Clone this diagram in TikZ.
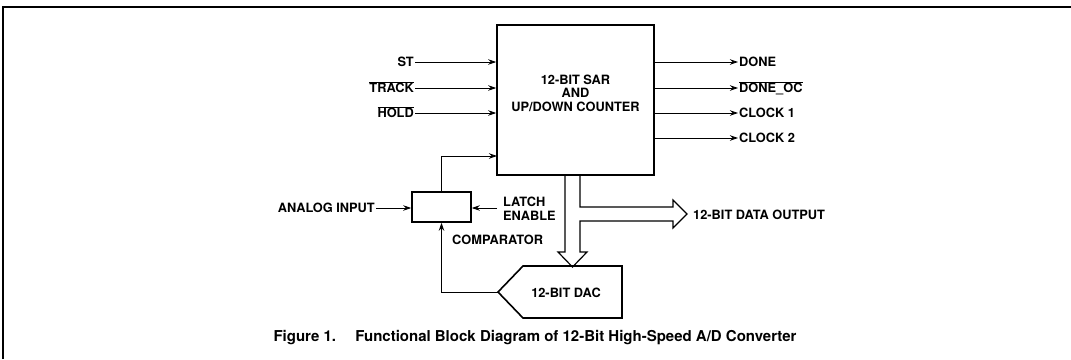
\documentclass[tikz,border=0pt]{standalone}
\usepackage{fontspec}
\setmainfont{TeX Gyre Heros}
\usetikzlibrary{arrows.meta}

\tikzset{
  blockbox/.style={draw, line width=1.6pt, inner sep=0pt},
  sig/.style={line width=0.9pt},
  bus/.style={line width=1.2pt, line join=miter},
  lbl/.style={font=\bfseries\fontsize{12.8}{13.5}\selectfont, inner sep=1pt, text height=9.2pt, text depth=0pt},
  lbltwo/.style={font=\bfseries\fontsize{12.8}{13.5}\selectfont, inner sep=1pt},
}

\begin{document}
\begin{tikzpicture}[x=1pt, y=-1pt, >={Stealth[length=8pt,width=5.5pt]}]
  % Frame
  \useasboundingbox (0,0) rectangle (1071,359);
  \draw[line width=1.5pt] (3,359) -- (3,7) -- (1071,7);

  % SAR block
  \node[blockbox, minimum width=157pt, minimum height=150pt] (sar) at (575.5,100) {};
  \node[lbltwo, align=center] (sartext) at (575.5,93) {12-BIT SAR\\AND\\UP/DOWN COUNTER};

  % Control inputs
  \node[lbl, anchor=east] (st) at (415,62) {ST};
  \node[lbl, anchor=east] (track) at (415,88) {$\overline{\mbox{TRACK}}$};
  \node[lbl, anchor=east] (hold) at (415,113) {$\overline{\mbox{HOLD}}$};
  \draw[sig, ->] (st) -- (st -| sar.west);
  \draw[sig, ->] (track) -- (track -| sar.west);
  \draw[sig, ->] (hold) -- (hold -| sar.west);

  % Outputs
  \node[lbl, anchor=west] (done) at (738,62) {DONE};
  \node[lbl, anchor=west] (doneoc) at (738,88) {$\overline{\mbox{DONE\_OC}}$};
  \node[lbl, anchor=west] (clka) at (738,113) {CLOCK 1};
  \node[lbl, anchor=west] (clkb) at (738,138) {CLOCK 2};
  \draw[sig, ->] (done -| sar.east) -- (done);
  \draw[sig, ->] (doneoc -| sar.east) -- (doneoc);
  \draw[sig, ->] (clka -| sar.east) -- (clka);
  \draw[sig, ->] (clkb -| sar.east) -- (clkb);

  % Comparator
  \node[blockbox, minimum width=59pt, minimum height=30pt] (comp) at (441.5,207) {};
  \node[lbl, anchor=east] (ain) at (376,208) {ANALOG INPUT};
  \draw[sig, ->] (ain) -- (ain -| comp.west);
  \coordinate (le) at (497,208);
  \draw[sig, ->] (le) -- (le -| comp.east);
  \node[lbltwo, anchor=west, align=left] (latch) at (502,209) {LATCH\\ENABLE};
  \node[lbl, anchor=west] (complbl) at (451,240) {COMPARATOR};
  \coordinate (cin) at (497,156);
  \draw[sig, ->] (comp.north) |- (cin);

  % DAC
  \coordinate (dacin) at (498,292);
  \draw[blockbox] (dacin) -- (523,266) -- (622,266) -- (622,318) -- (523,318) -- cycle;
  \node[lbl] (dac) at (566,293) {12-BIT DAC};
  \draw[sig, ->] (dacin) -| (comp.south);

  % Data bus
  \draw[bus] (565,175) -- (565,252) -- (558,252) -- (572.5,267) -- (587,252) -- (580,252)
    -- (580,221) -- (673,221) -- (673,228) -- (687,214) -- (673,200) -- (673,207)
    -- (580,207) -- (580,175);
  \node[lbl, anchor=west] (dout) at (692,215) {12-BIT DATA OUTPUT};

  % Caption
  \node[font=\bfseries\fontsize{15}{17}\selectfont] (caption) at (535,338)
    {Figure 1.\quad\ Functional Block Diagram of 12-Bit High-Speed A/D Converter};
\end{tikzpicture}
\end{document}
